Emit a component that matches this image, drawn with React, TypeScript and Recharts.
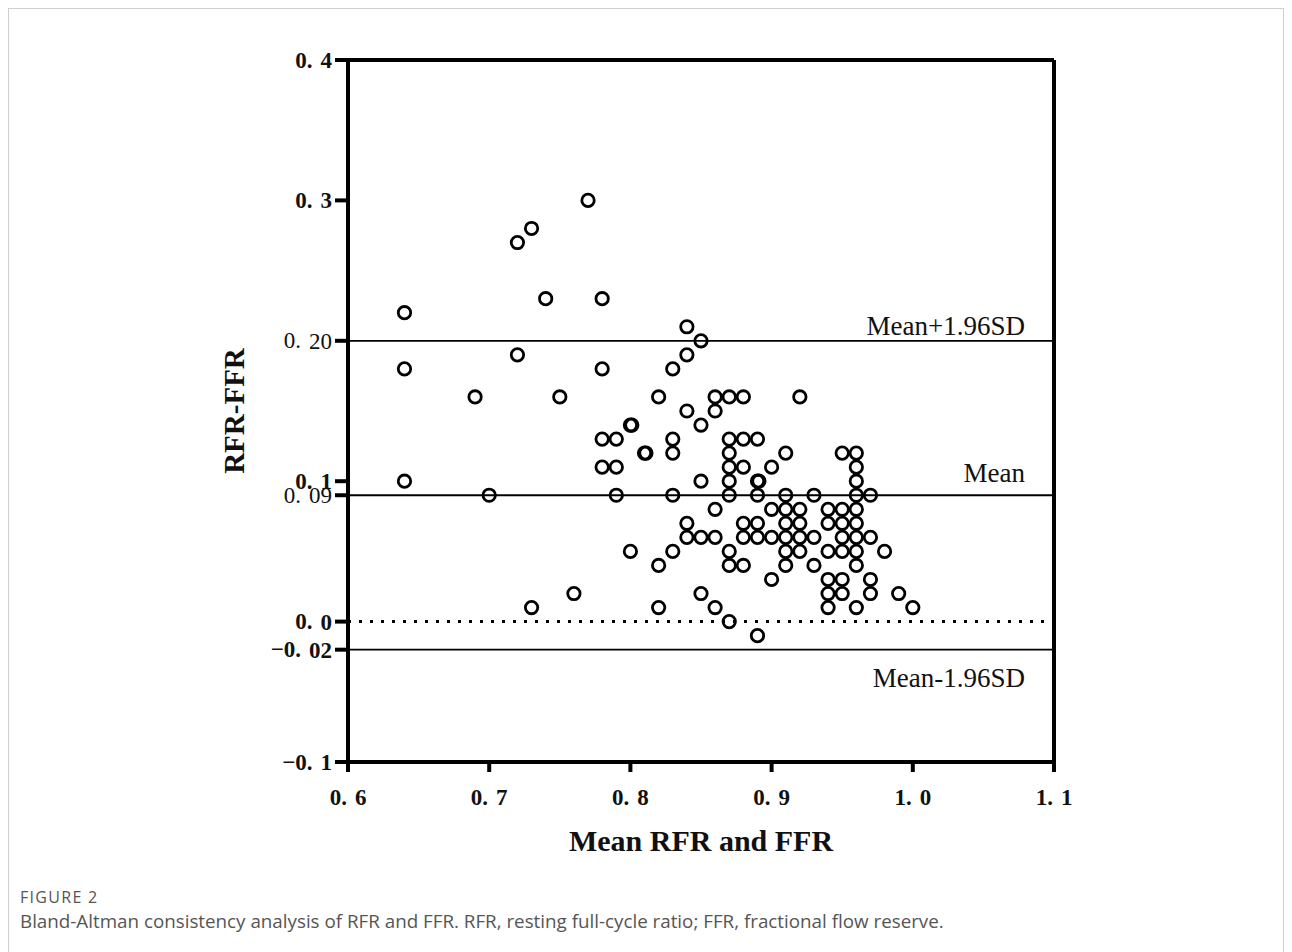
import React from "react";
import {
  ScatterChart,
  Scatter,
  XAxis,
  YAxis,
  ReferenceLine,
} from "recharts";

// mean of RFR and FFR for each column of points
const COLUMN_MEANS = [
  0.64, 0.69, 0.7, 0.72, 0.73, 0.74, 0.75, 0.76, 0.77, 0.78, 0.79, 0.8, 0.801, 0.81, 0.811,
  0.82, 0.83, 0.84, 0.85, 0.86, 0.87, 0.88, 0.89, 0.891, 0.9, 0.91, 0.92, 0.93, 0.94, 0.95,
  0.96, 0.97, 0.98, 0.99, 1.0,
];
// RFR - FFR values stacked in each column
const COLUMN_DIFFS = [
  [0.22, 0.18, 0.1],
  [0.16],
  [0.09],
  [0.27, 0.19],
  [0.28, 0.01],
  [0.23],
  [0.16],
  [0.02],
  [0.3],
  [0.23, 0.18, 0.13, 0.11],
  [0.13, 0.11, 0.09],
  [0.14, 0.05],
  [0.14],
  [0.12],
  [0.12],
  [0.16, 0.04, 0.01],
  [0.18, 0.13, 0.12, 0.09, 0.05],
  [0.21, 0.19, 0.15, 0.07, 0.06],
  [0.2, 0.14, 0.1, 0.06, 0.02],
  [0.16, 0.15, 0.08, 0.06, 0.01],
  [0.16, 0.13, 0.12, 0.11, 0.1, 0.09, 0.05, 0.04, 0.0],
  [0.16, 0.13, 0.11, 0.07, 0.06, 0.04],
  [0.13, 0.1, 0.09, 0.07, 0.06, -0.01],
  [0.1],
  [0.11, 0.08, 0.06, 0.03],
  [0.12, 0.09, 0.08, 0.07, 0.06, 0.05, 0.04],
  [0.16, 0.08, 0.07, 0.06, 0.05],
  [0.09, 0.06, 0.04],
  [0.08, 0.07, 0.05, 0.03, 0.02, 0.01],
  [0.12, 0.08, 0.07, 0.06, 0.05, 0.03, 0.02],
  [0.12, 0.11, 0.1, 0.09, 0.08, 0.07, 0.06, 0.05, 0.04, 0.01],
  [0.09, 0.06, 0.03, 0.02],
  [0.05],
  [0.02],
  [0.01],
];

const X_TICKS = [0.6, 0.7, 0.8, 0.9, 1.0, 1.1];
const X_TICK_LABELS = ["0.6", "0.7", "0.8", "0.9", "1.0", "1.1"];
const Y_TICKS = [-0.1, -0.02, 0, 0.09, 0.1, 0.2, 0.3, 0.4];
const Y_TICK_LABELS = ["−0.1", "−0.02", "0.0", "0.09", "0.1", "0.20", "0.3", "0.4"];
const Y_TICK_BOLD = [true, true, true, false, true, false, true, true];

const MEAN_DIFF = 0.09;
const UPPER_LOA = 0.2;
const LOWER_LOA = -0.02;

const points = COLUMN_MEANS.flatMap((m, i) => COLUMN_DIFFS[i].map((d) => ({ mean: m, diff: d })));

const SERIF = "'Liberation Serif', 'Times New Roman', serif";

function splitLabel(label: string) {
  const k = label.indexOf(".");
  return [label.slice(0, k + 1), label.slice(k + 1)];
}

function XTick({ x, y, payload }: any) {
  const idx = X_TICKS.findIndex((t) => Math.abs(t - payload.value) < 1e-6);
  const [head, tail] = splitLabel(X_TICK_LABELS[idx] ?? String(payload.value));
  return (
    <text x={x} y={y} textAnchor="middle" dominantBaseline="central" fontFamily={SERIF} fontWeight="bold" fontSize={23} fill="#111">
      {head}
      <tspan dx={8}>{tail}</tspan>
    </text>
  );
}

function YTick({ x, y, payload }: any) {
  const idx = Y_TICKS.findIndex((t) => Math.abs(t - payload.value) < 1e-6);
  const [head, tail] = splitLabel(Y_TICK_LABELS[idx] ?? String(payload.value));
  return (
    <text
      x={x}
      y={y}
      textAnchor="end"
      dominantBaseline="central"
      fontFamily={SERIF}
      fontWeight={Y_TICK_BOLD[idx] ? "bold" : "normal"}
      fontSize={23}
      fill="#111"
    >
      {head}
      <tspan dx={8}>{tail}</tspan>
    </text>
  );
}

const ringShape = (props: any) => (
  <circle cx={props.cx} cy={props.cy} r={6.2} fill="none" stroke="#000" strokeWidth={2.8} />
);

const lineLabel = (text: string, dy: number) => (props: any) => {
  const vb = props.viewBox;
  return (
    <text x={vb.x + vb.width - 29} y={vb.y + dy} textAnchor="end" fontFamily={SERIF} fontSize={27} fill="#111">
      {text}
    </text>
  );
};

export default function App() {
  return (
    <div
      style={{
        position: "relative",
        width: 1276,
        height: 960,
        border: "1px solid #cfcfcf",
        boxSizing: "border-box",
        background: "#fff",
      }}
    >
      <div style={{ position: "absolute", left: 0, top: 0 }}>
        <ScatterChart width={1200} height={900} margin={{ top: 51, right: 155, left: 219, bottom: 87 }}>
          <XAxis
            type="number"
            dataKey="mean"
            domain={[0.6, 1.1]}
            ticks={X_TICKS}
            interval={0}
            height={60}
            tickSize={10}
            tickMargin={25}
            axisLine={{ stroke: "#000", strokeWidth: 4 }}
            tickLine={{ stroke: "#000", strokeWidth: 4 }}
            tick={<XTick />}
            allowDataOverflow
            label={(props: any) => {
              const vb = props.viewBox;
              return (
                <text x={vb.x + vb.width / 2} y={831} textAnchor="middle" dominantBaseline="central" fontFamily={SERIF} fontWeight="bold" fontSize={30} fill="#111">
                  Mean RFR and FFR
                </text>
              );
            }}
          />
          <YAxis
            type="number"
            dataKey="diff"
            domain={[-0.1, 0.4]}
            ticks={Y_TICKS}
            interval={0}
            width={120}
            tickSize={13}
            tickMargin={3}
            axisLine={{ stroke: "#000", strokeWidth: 4 }}
            tickLine={{ stroke: "#000", strokeWidth: 4 }}
            tick={<YTick />}
            allowDataOverflow
            label={(props: any) => {
              const vb = props.viewBox;
              const cy = vb.y + vb.height / 2;
              return (
                <text x={225} y={cy} textAnchor="middle" dominantBaseline="central" transform={`rotate(-90 225 ${cy})`} fontFamily={SERIF} fontWeight="bold" fontSize={29} fill="#111">
                  RFR-FFR
                </text>
              );
            }}
          />
          <ReferenceLine y={0.4} stroke="#000" strokeWidth={4} />
          <ReferenceLine x={1.1} stroke="#000" strokeWidth={4} />
          <ReferenceLine y={UPPER_LOA} stroke="#000" strokeWidth={1.8} label={lineLabel("Mean+1.96SD", -6)} />
          <ReferenceLine y={MEAN_DIFF} stroke="#000" strokeWidth={1.8} label={lineLabel("Mean", -13)} />
          <ReferenceLine y={0} stroke="#000" strokeWidth={3} strokeDasharray="3 8" />
          <ReferenceLine y={LOWER_LOA} stroke="#000" strokeWidth={1.8} label={lineLabel("Mean-1.96SD", 37)} />
          <Scatter data={points} shape={ringShape} isAnimationActive={false} />
        </ScatterChart>
      </div>
      <div
        style={{
          position: "absolute",
          left: 11,
          top: 877,
          fontFamily: "'Open Sans', sans-serif",
          fontSize: 16,
          color: "#555",
          letterSpacing: 1.3,
        }}
      >
        FIGURE 2
      </div>
      <div
        style={{
          position: "absolute",
          left: 11,
          top: 899,
          fontFamily: "'Open Sans', sans-serif",
          fontSize: 18.8,
          color: "#555",
          whiteSpace: "nowrap",
        }}
      >
        Bland-Altman consistency analysis of RFR and FFR. RFR, resting full-cycle ratio; FFR, fractional flow reserve.
      </div>
    </div>
  );
}
